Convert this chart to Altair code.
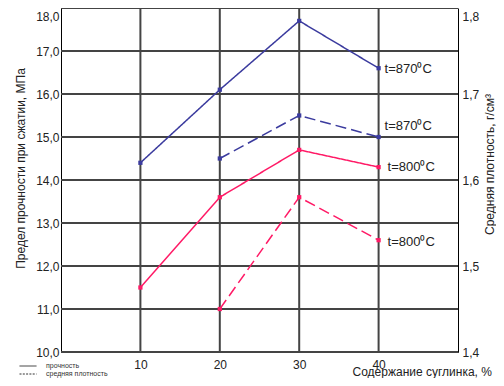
import altair as alt
import pandas as pd

# ---- data ----
clay = [10, 20, 30, 40]
strength_870 = [14.4, 16.1, 17.7, 16.6]
strength_800 = [11.5, 13.6, 14.7, 14.3]
density_clay = [20, 30, 40]
density_870 = [1.625, 1.675, 1.65]
density_800 = [1.45, 1.58, 1.53]
temps = ["870", "800"]
temp_labels = ["t=870⁰C", "t=800⁰C"]
kinds = ["прочность", "средняя плотность"]
strength_ticks = [10, 11, 12, 13, 14, 15, 16, 17, 18]
density_ticks = [1.4, 1.5, 1.6, 1.7, 1.8]
x_domain = [0, 50]
left_domain = [10, 18]
right_domain = [1.4, 1.8]

colors = ["#3b3b9e", "#ff1a66"]
GRID = "#444444"
FONT = "Liberation Sans"
TXT = "#222222"

strength_df = pd.DataFrame({
    "clay": clay + clay,
    "value": strength_870 + strength_800,
    "temp": [temps[0]] * 4 + [temps[1]] * 4,
    "label": [temp_labels[0]] * 4 + [temp_labels[1]] * 4,
    "kind": kinds[0],
})
density_df = pd.DataFrame({
    "clay": density_clay + density_clay,
    "value": density_870 + density_800,
    "temp": [temps[0]] * 3 + [temps[1]] * 3,
    "label": [temp_labels[0]] * 3 + [temp_labels[1]] * 3,
    "kind": kinds[1],
})
hgrid_df = pd.DataFrame({"value": strength_ticks})
vgrid_df = pd.DataFrame({"clay": clay})

x_enc = alt.X(
    "clay:Q",
    scale=alt.Scale(domain=x_domain, nice=False, zero=False),
    axis=alt.Axis(
        values=clay, grid=False, ticks=False,
        domainColor="black", labelFontSize=12, labelPadding=7, labelColor=TXT,
        title="Содержание суглинка, %", titleX=291, titleY=23, titleAlign="left",
        titleBaseline="alphabetic", titleFontWeight="normal", titleFontSize=12,
        titleColor=TXT,
    ),
)

comma1 = "replace(format(datum.value, '.1f'), '.', ',')"

y_left = alt.Y(
    "value:Q",
    scale=alt.Scale(domain=left_domain, nice=False, zero=False),
    axis=alt.Axis(
        values=strength_ticks, grid=False, ticks=False,
        domainColor="black", labelExpr=comma1, labelFontSize=12, labelPadding=2,
        labelColor=TXT,
        labelBaseline={"condition": {"test": "datum.value == 18", "value": "top"}, "value": "middle"},
        labelOffset={"condition": {"test": "datum.value == 18", "value": 3}, "value": 0},
        title="Предел прочности при сжатии, МПа", titleX=-37, titleY=160,
        titleAngle=270, titleBaseline="alphabetic", titleAlign="center",
        titleFontWeight="normal", titleFontSize=12, titleColor=TXT,
    ),
)

y_right = alt.Y(
    "value:Q",
    scale=alt.Scale(domain=right_domain, nice=False, zero=False),
    axis=alt.Axis(
        orient="right", values=density_ticks, grid=False, ticks=False,
        domainColor="black", labelExpr=comma1, labelFontSize=12, labelPadding=4,
        labelColor=TXT,
        labelBaseline={"condition": {"test": "datum.value == 1.8", "value": "top"}, "value": "middle"},
        labelOffset={"condition": {"test": "datum.value == 1.8", "value": 3}, "value": 0},
        title="Средняя плотность, г/см³", titleX=35, titleY=156,
        titleAngle=270, titleBaseline="alphabetic", titleAlign="center",
        titleFontWeight="normal", titleFontSize=12, titleColor=TXT,
    ),
)

color_enc = alt.Color("temp:N", scale=alt.Scale(domain=temps, range=colors), legend=None)

legend = alt.Legend(
    orient="none", legendX=-42, legendY=354, title=None, symbolType="stroke",
    symbolSize=289, symbolStrokeColor="#333333", symbolStrokeWidth=1,
    labelFontSize=7, labelOffset=9, rowPadding=0, padding=0, labelColor="#333333",
    labelFont=FONT, clipHeight=8,
)

hgrid = alt.Chart(hgrid_df).mark_rule(color=GRID, strokeWidth=2).encode(
    y=y_left, x=alt.datum(x_domain[0]), x2=alt.datum(x_domain[1]),
)
vgrid = alt.Chart(vgrid_df).mark_rule(color=GRID, strokeWidth=2).encode(
    x=x_enc, y=alt.datum(left_domain[0]), y2=alt.datum(left_domain[1]),
)

a_line = alt.Chart(strength_df).mark_line(strokeWidth=1.5).encode(
    x=x_enc, y=y_left, color=color_enc,
    strokeDash=alt.StrokeDash("kind:N", scale=alt.Scale(domain=kinds, range=[[1, 0], [2, 1.3]]), legend=legend),
    detail="temp:N",
)
a_pts = alt.Chart(strength_df).mark_square(size=18, opacity=1).encode(
    x=x_enc, y=y_left, color=color_enc,
)


def label_layer(df, y_enc, temp, dx, dy):
    return alt.Chart(df).mark_text(
        align="left", baseline="middle", dx=dx, dy=dy, fontSize=13, color=TXT, font=FONT,
    ).encode(x=x_enc, y=y_enc, text="label:N").transform_filter(
        (alt.datum.clay == 40) & (alt.datum.temp == temp)
    )


left = alt.layer(
    hgrid, vgrid, a_line, a_pts,
    label_layer(strength_df, y_left, temps[0], 6, 1),
    label_layer(strength_df, y_left, temps[1], 9, 0),
)

b_line = alt.Chart(density_df).mark_line(strokeWidth=1.5, strokeDash=[11, 5]).encode(
    x=x_enc, y=y_right, color=color_enc, detail="temp:N",
)
b_pts = alt.Chart(density_df).mark_square(size=18, opacity=1).encode(
    x=x_enc, y=y_right, color=color_enc,
)
right = alt.layer(
    b_line, b_pts,
    label_layer(density_df, y_right, temps[0], 6, -11),
    label_layer(density_df, y_right, temps[1], 9, 2),
)

chart = alt.layer(left, right).resolve_scale(
    y="independent"
).properties(
    width=397, height=344,
    padding={"left": 53, "top": 0, "right": 38, "bottom": 26},
    autosize=alt.AutoSizeParams(type="none"),
).configure(font=FONT).configure_view(stroke="transparent")

chart.save("out.html", embed_options={"renderer": "svg", "actions": False})
